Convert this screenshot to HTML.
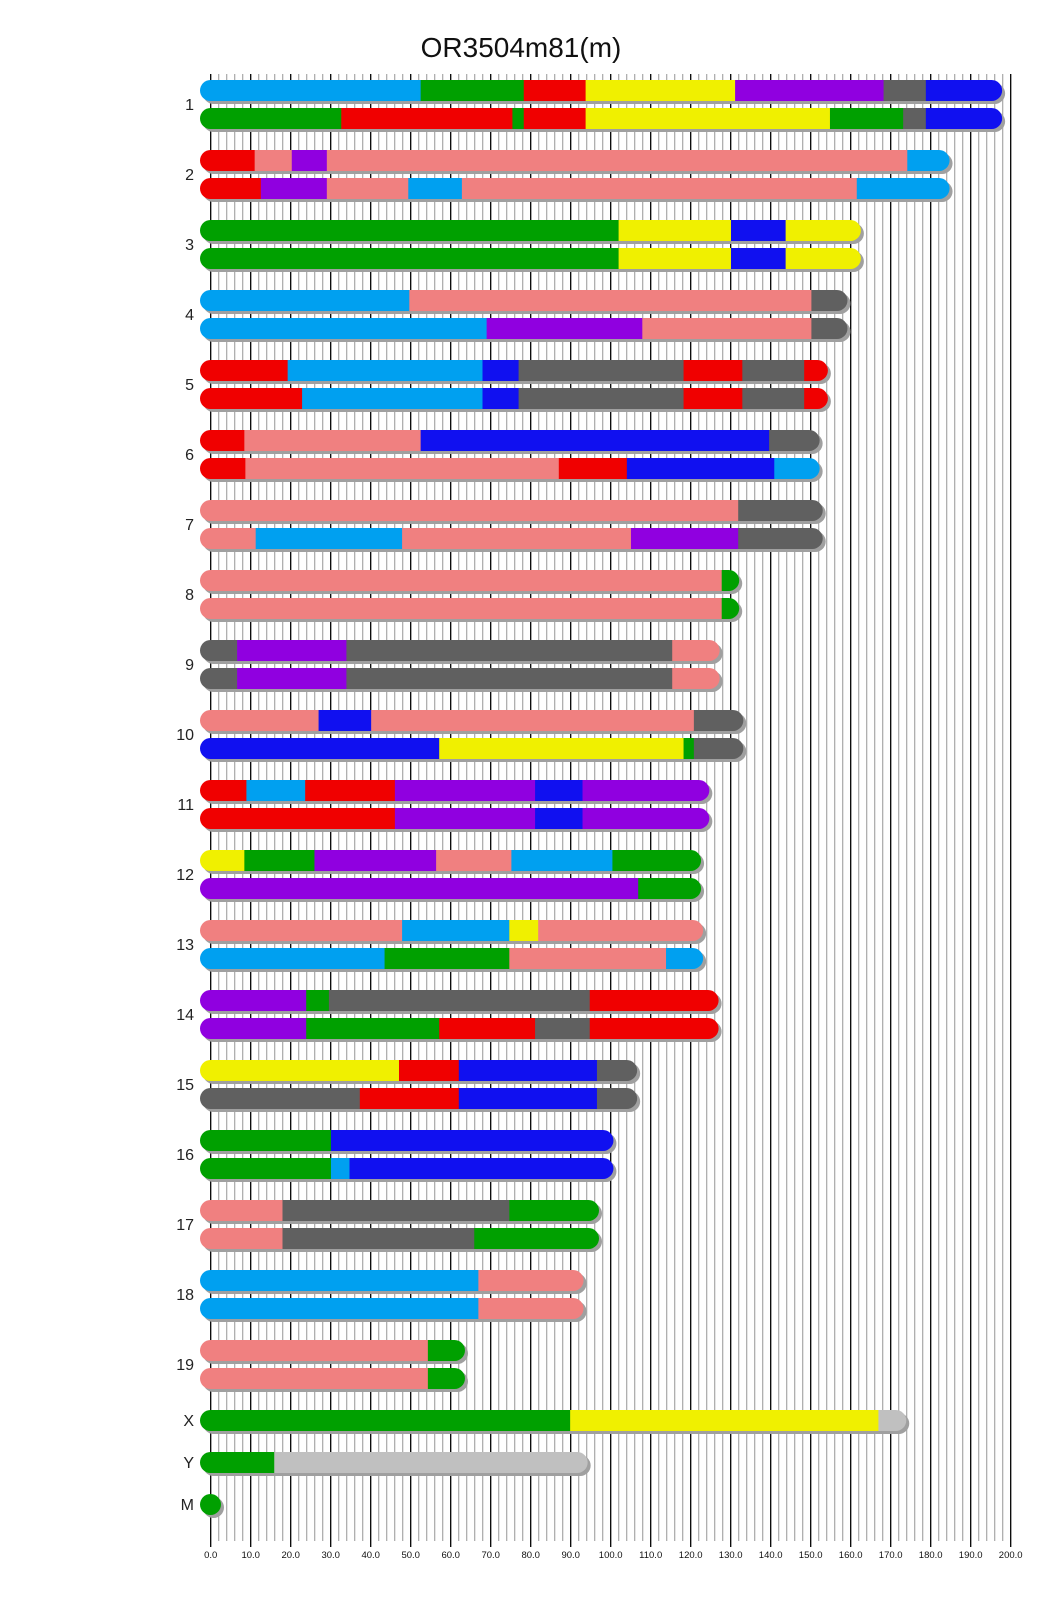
<!DOCTYPE html>
<html><head><meta charset="utf-8"><style>
html,body{margin:0;padding:0;background:#fff}
svg{display:block}
text{font-family:"Liberation Sans",Arial,sans-serif}
</style></head><body>
<svg id="s" width="1040" height="1616" viewBox="0 0 1040 1616" xmlns="http://www.w3.org/2000/svg">
<g id="grid"></g>
<g id="bars"></g>
<text x="521" y="57" font-size="28" text-anchor="middle" fill="#111">OR3504m81(m)</text>
<g font-size="16" text-anchor="end" fill="#222">
<text x="194" y="110">1</text><text x="194" y="180">2</text><text x="194" y="250">3</text>
<text x="194" y="320">4</text><text x="194" y="390">5</text><text x="194" y="460">6</text>
<text x="194" y="530">7</text><text x="194" y="600">8</text><text x="194" y="670">9</text>
<text x="194" y="740">10</text><text x="194" y="810">11</text><text x="194" y="880">12</text>
<text x="194" y="950">13</text><text x="194" y="1020">14</text><text x="194" y="1090">15</text>
<text x="194" y="1160">16</text><text x="194" y="1230">17</text><text x="194" y="1300">18</text>
<text x="194" y="1370">19</text><text x="194" y="1426">X</text><text x="194" y="1468">Y</text>
<text x="194" y="1510">M</text>
</g>
<g font-size="9.5" text-anchor="middle" fill="#111">
<text x="210.7" y="1558">0.0</text><text x="250.7" y="1558">10.0</text><text x="290.7" y="1558">20.0</text>
<text x="330.7" y="1558">30.0</text><text x="370.7" y="1558">40.0</text><text x="410.7" y="1558">50.0</text>
<text x="450.7" y="1558">60.0</text><text x="490.7" y="1558">70.0</text><text x="530.7" y="1558">80.0</text>
<text x="570.7" y="1558">90.0</text><text x="610.7" y="1558">100.0</text><text x="650.7" y="1558">110.0</text>
<text x="690.7" y="1558">120.0</text><text x="730.7" y="1558">130.0</text><text x="770.7" y="1558">140.0</text>
<text x="810.7" y="1558">150.0</text><text x="850.7" y="1558">160.0</text><text x="890.7" y="1558">170.0</text>
<text x="930.7" y="1558">180.0</text><text x="970.7" y="1558">190.0</text><text x="1010.7" y="1558">200.0</text>
</g>
</svg>
<script>
(function(){
var NS="http://www.w3.org/2000/svg";
function el(t,a,p){var e=document.createElementNS(NS,t);for(var k in a)e.setAttribute(k,a[k]);p.appendChild(e);return e;}
var grid=document.getElementById('grid'),bars=document.getElementById('bars'),svg=document.getElementById('s');
for(var i=0;i<=100;i++){var x=210.7+i*8;var major=(i%5==0);
 el('line',{x1:x,x2:x,y1:74,y2:major?1547:1541,stroke:major?'#000':'#a8a8a8','stroke-width':major?1.3:1.2},grid);}
var C={lb:'#00a0f0',g:'#00a000',r:'#f00000',y:'#f0f000',p:'#9000e0',gr:'#606060',b:'#1010f0',s:'#f08080',lg:'#c0c0c0'};
var F=1.031;
var D=[
[["lb",408,"g",508,"r",568,"y",713,"p",857,"gr",898,"b",972],["g",331,"r",497,"g",508,"r",568,"y",805,"g",876,"gr",898,"b",972]],
[["r",247,"s",283,"p",317,"s",880,"lb",921],["r",253,"p",317,"s",396,"lb",448,"s",831,"lb",921]],
[["g",600,"y",709,"b",762,"y",835],["g",600,"y",709,"b",762,"y",835]],
[["lb",397,"s",787,"gr",822],["lb",472,"p",623,"s",787,"gr",822]],
[["r",279,"lb",468,"b",503,"gr",663,"r",720,"gr",780,"r",803],["r",293,"lb",468,"b",503,"gr",663,"r",720,"gr",780,"r",803]],
[["r",237,"s",408,"b",746,"gr",795],["r",238,"s",542,"r",608,"b",751,"lb",795]],
[["s",716,"gr",798],["s",248,"lb",390,"s",612,"p",716,"gr",798]],
[["s",700,"g",717],["s",700,"g",717]],
[["gr",230,"p",336,"gr",652,"s",698],["gr",230,"p",336,"gr",652,"s",698]],
[["s",309,"b",360,"s",673,"gr",721],["b",426,"y",663,"g",673,"gr",721]],
[["r",239,"lb",296,"r",383,"p",519,"b",565,"p",688],["r",383,"p",519,"b",565,"p",688]],
[["y",237,"g",305,"p",423,"s",496,"lb",594,"g",680],["p",619,"g",680]],
[["s",390,"lb",494,"y",522,"s",682],["lb",373,"g",494,"s",646,"lb",682]],
[["p",297,"g",319,"gr",572,"r",697],["p",297,"g",426,"r",519,"gr",572,"r",697]],
[["y",387,"r",445,"b",579,"gr",618],["gr",349,"r",445,"b",579,"gr",618]],
[["g",321,"b",595],["g",321,"lb",339,"b",595]],
[["s",274,"gr",494,"g",581],["s",274,"gr",460,"g",581]],
[["lb",464,"s",566],["lb",464,"s",566]],
[["s",415,"g",451],["s",415,"g",451]]
];
var defs=el('defs',{},svg),cid=0;
function bar(y,segs){var x0=200,end=segs[segs.length-1]*F,h=21;
 el('rect',{x:x0+3,y:y+3,width:end-x0,height:h,rx:10.5,fill:'#a0a0a0'},bars);
 var cp=el('clipPath',{id:'c'+cid},defs);el('rect',{x:x0,y:y,width:end-x0,height:h,rx:10.5},cp);
 var g=el('g',{'clip-path':'url(#c'+cid+')'},bars);cid++;
 var px=x0;for(var i=0;i<segs.length;i+=2){var ex=segs[i+1]*F;el('rect',{x:px,y:y,width:ex-px+0.5,height:h,fill:C[segs[i]]},g);px=ex;}
}
for(var c=0;c<D.length;c++){var ty=80+70*c;bar(ty,D[c][0]);bar(ty+28,D[c][1]);}
bar(1410,["g",553,"y",852,"lg",879]);
bar(1452,["g",266,"lg",570]);
el('circle',{cx:213.5,cy:1507.5,r:10.5,fill:'#a0a0a0'},bars);
el('circle',{cx:210.5,cy:1504.5,r:10.5,fill:'#00a000'},bars);
})();
</script>
</body></html>
